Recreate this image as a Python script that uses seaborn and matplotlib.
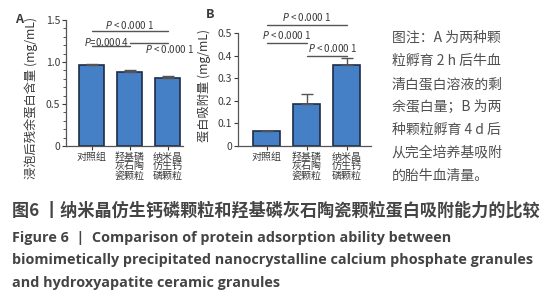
#importing required libraries
import numpy as np
import pandas as pd
import matplotlib.pyplot as plt
from matplotlib.ticker import MultipleLocator
import seaborn as sns

sns.set_style("ticks")
plt.rcParams['font.family'] = ['Noto Sans CJK SC', 'DejaVu Sans']
plt.rcParams['mathtext.fontset'] = 'dejavusans'

#chart data
groups = ["对照组", "羟基磷\n灰石陶\n瓷颗粒", "纳米晶\n仿生钙\n磷颗粒"]
residual_protein = [0.96, 0.88, 0.81]      # A: mg/mL
residual_err = [0.02, 0.03, 0.03]
adsorbed_protein = [0.068, 0.186, 0.358]   # B: mg/mL
adsorbed_err = [0.0, 0.045, 0.032]

# significance brackets: (left bar, right bar, line height, label)
sig_a = [(0, 2, 1.37, "$P$ < 0.000 1"), (0, 1, 1.19, "$P$=0.000 4"), (1, 2, 1.225, "$P$ < 0.000 1")]
sig_b = [(0, 2, 0.535, "$P$ < 0.000 1"), (0, 1, 0.456, "$P$ < 0.000 1"), (1, 2, 0.398, "$P$ < 0.000 1")]

note_lines = ["图注：A 为两种颗", "粒孵育 2 h 后牛血", "清白蛋白溶液的剩", "余蛋白量；B 为两",
              "种颗粒孵育 4 d 后", "从完全培养基吸附", "的胎牛血清量。"]
title_cn = "图6 丨纳米晶仿生钙磷颗粒和羟基磷灰石陶瓷颗粒蛋白吸附能力的比较"
title_en = ["Figure 6  |  Comparison of protein adsorption ability between",
            "biomimetically precipitated nanocrystalline calcium phosphate granules",
            "and hydroxyapatite ceramic granules"]

bar_color = "#4580c6"
edge_color = "#1d2c47"
text_color = "#3a3a3a"

df_a = pd.DataFrame({"group": groups, "value": residual_protein})
df_b = pd.DataFrame({"group": groups, "value": adsorbed_protein})

fig = plt.figure(figsize=(5.53, 3.0), dpi=100)
ax_a = fig.add_axes([0.119, 0.513, 0.212, 0.42])
ax_b = fig.add_axes([0.430, 0.513, 0.240, 0.377])


def draw_panel(ax, df, err, ymax, major, minor, ylabel, label_xy):
    sns.barplot(data=df, x="group", y="value", color=bar_color, width=0.66,
                edgecolor=edge_color, linewidth=1.2, saturation=1, ax=ax)
    ax.errorbar(np.arange(len(df)), df["value"], yerr=[np.zeros(len(err)), err],
                fmt="none", ecolor="#555555", elinewidth=1, capsize=4, capthick=1)
    ax.set_ylim(0, ymax)
    ax.yaxis.set_major_locator(MultipleLocator(major))
    ax.yaxis.set_minor_locator(MultipleLocator(minor))
    ax.yaxis.set_major_formatter(lambda v, p: "0" if v == 0 else f"{v:.1f}")
    ax.set_xlabel("")
    ax.set_ylabel(ylabel, fontsize=8.8, color=text_color)
    ax.yaxis.set_label_coords(*label_xy)
    ax.tick_params(axis="both", labelsize=7.5, colors=text_color, length=3, width=0.8, pad=1)
    ax.tick_params(axis="x", labelsize=7.2)
    ax.tick_params(axis="y", which="minor", length=2, width=0.6, color=text_color)
    for lbl in ax.get_xticklabels():
        lbl.set_linespacing(0.95)
        lbl.set_verticalalignment("top")
    sns.despine(ax=ax)
    for s in ["left", "bottom"]:
        ax.spines[s].set_color("#555555")
        ax.spines[s].set_linewidth(0.9)


draw_panel(ax_a, df_a, residual_err, 1.5, 0.5, 0.1, "浸泡后残余蛋白含量 (mg/mL)", (-0.24, 0.38))
ax_a.set_xlim(-0.68, 2.4)
draw_panel(ax_b, df_b, adsorbed_err, 0.5, 0.1, 0.1, "蛋白吸附量 (mg/mL)", (-0.2, 0.54))
ax_b.set_xlim(-0.72, 2.6)

# significance brackets
def draw_sig(ax, sigs, text_offsets):
    for (i, j, h, lab), (dx, dy, ha) in zip(sigs, text_offsets):
        ax.plot([i, j], [h, h], color="#555555", lw=1, clip_on=False)
        ax.text((i + j) / 2 + dx, h + dy, lab, ha=ha, va="center", fontsize=7,
                color=text_color, clip_on=False)


draw_sig(ax_a, sig_a, [(0, 0.07, "center"), (-0.1, 0.05, "center"), (0.55, -0.075, "center")])
draw_sig(ax_b, sig_b, [(0, 0.035, "center"), (0.0, 0.035, "center"), (0.15, 0.035, "center")])

fig.text(0.035, 0.935, "A", fontsize=9, fontweight="bold", color=text_color, ha="center", va="center")
fig.text(0.38, 0.95, "B", fontsize=9, fontweight="bold", color=text_color, ha="center", va="center")

# right-hand note
for k, line in enumerate(note_lines):
    fig.text(0.708, 0.873 - k * 0.0765, line, fontsize=10, color="#505050",
             ha="left", va="center")

# bottom caption
fig.text(0.022, 0.298, title_cn, fontsize=12.3, fontweight="bold", color="#444444", ha="left", va="center")
for k, line in enumerate(title_en):
    fig.text(0.022, 0.207 - k * 0.075, line, fontsize=10.4, fontweight="bold",
             color="#444444", ha="left", va="center", family=["Open Sans", "DejaVu Sans"])

fig.savefig("out.png", dpi=100)
